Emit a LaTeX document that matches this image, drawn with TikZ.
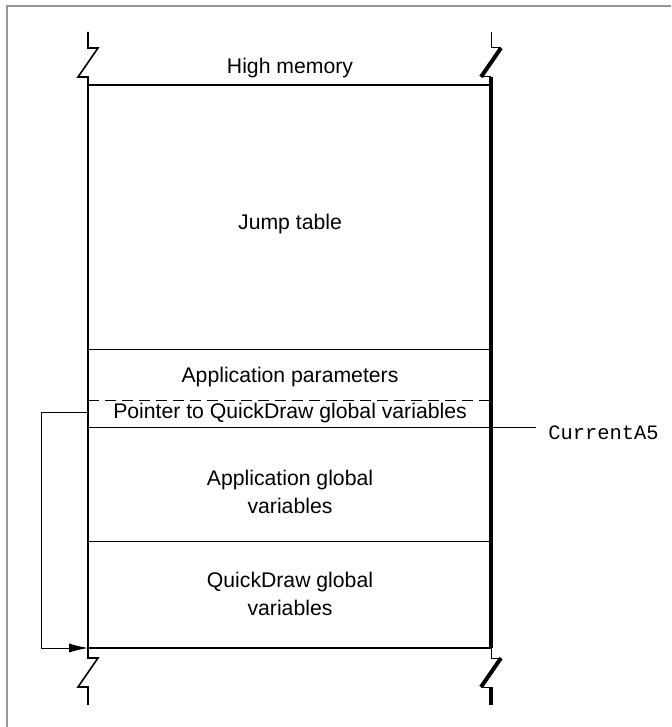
\documentclass[tikz,border=0pt]{standalone}
\usepackage{fontspec}
\setmainfont{Liberation Sans}
\setmonofont{Liberation Mono}
\usetikzlibrary{positioning,arrows.meta,calc}
\definecolor{framegray}{RGB}{150,150,150}

\begin{document}
\begin{tikzpicture}[x=0.5pt,y=-0.5pt,>=Latex,
   lbl/.style={align=center, inner sep=1pt,
               font=\fontsize{10.6}{14}\selectfont},
   reg/.style={font=\fontsize{10.2}{12}\selectfont\ttfamily, inner sep=1pt},
   sep/.style={line width=0.5pt},
   edge/.style={line width=0.8pt},
   heavy/.style={line width=2pt}]
  \useasboundingbox (0,0) rectangle (671,727);
  % page frame
  \draw[framegray, line width=0.9pt] (7,727) -- (7,6) -- (671,6);

  % corners of the memory block
  \coordinate (tl) at (88,85);
  \coordinate (tr) at (491,85);
  \coordinate (bl) at (88,648);
  \coordinate (br) at (491,648);

  % break marks above and below
  \foreach \bx/\ya/\yb/\yc in {88/32/48/85, 88/648/658/705}
    \draw[edge] (\bx,\ya) -- (\bx,\yb) -- ++(10,0) -- ++(-20,29) -- ++(10,0) -- (\bx,\yc);
  \foreach \bx/\ya/\yb/\yc in {491/32/48/85, 491/648/658/705}{
    \draw[sep] (\bx,\ya) -- (\bx,\yb) -- ++(10,0);
    \draw[heavy] (\bx+10,\yb) -- ++(-20,29);
    \draw[sep] (\bx-10,\yb+29) -- ++(10,0);
    \draw[heavy] (\bx,\yb+29) -- (\bx,\yc);
  }

  % outline
  \draw[line width=1pt] (tl) -- (tr);
  \draw[edge] (tl) -- (bl);
  \draw[heavy] (tr) -- (br);
  \draw[edge] (bl) -- (br);

  % partitions
  \draw[sep] (88,349) -- (491,349);
  \draw[sep, dash pattern=on 5.5pt off 3pt] (88,400) -- (491,400);
  \draw[sep] (88,541) -- (491,541);
  \coordinate (a5l) at (88,427);
  \coordinate (a5r) at (536,427);
  \draw[sep] (a5l) -- (a5r);

  % labels
  \node[lbl] (high) at (290,68) {High memory};
  \node[lbl] (jump) at (290,224) {Jump table};
  \node[lbl] (param) at (290,377) {Application parameters};
  \node[lbl] (ptr) at (290,413) {Pointer to QuickDraw global variables};
  \node[lbl] (appglob) at (290,492) {Application global\\variables};
  \node[lbl] (qdglob) at (290,594) {QuickDraw global\\variables};
  \node[reg, anchor=west] (a5) at (546,433) {CurrentA5};

  % pointer arrow
  \coordinate (pfrom) at (88,412);
  \coordinate (pturn) at (41,412);
  \draw[sep, -{Latex[length=9.5pt,width=4.6pt]}] (pfrom) -- (pturn) |- (bl);
\end{tikzpicture}
\end{document}
